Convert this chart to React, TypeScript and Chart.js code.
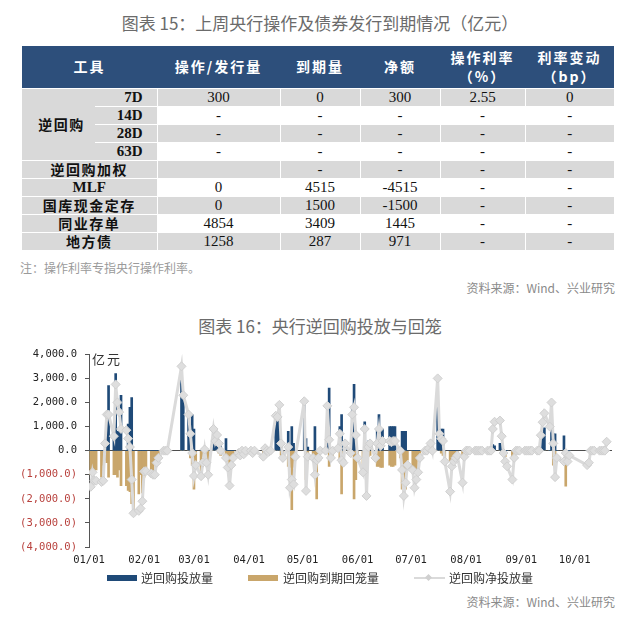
import React, { useEffect, useRef } from "react";
import { Chart, registerables } from "chart.js";

Chart.register(...registerables);

// ---------- Table (图表 15) ----------
const tableLabels = ["7D", "14D", "28D", "63D", "逆回购加权", "MLF", "国库现金定存", "同业存单", "地方债"];
const tableIssue = ["300", "-", "-", "-", "", "0", "0", "4854", "1258"];
const tableMaturity = ["0", "-", "-", "-", "-", "4515", "1500", "3409", "287"];
const tableNet = ["300", "-", "-", "-", "-", "-4515", "-1500", "1445", "971"];
const tableRate = ["2.55", "-", "-", "-", "-", "-", "-", "-", "-"];
const tableChange = ["0", "-", "-", "-", "-", "-", "-", "-", "-"];

// ---------- Chart (图表 16) ----------
const monthTickLabels = ["01/01", "02/01", "03/01", "04/01", "05/01", "06/01", "07/01", "08/01", "09/01", "10/01"];
const monthStartDay = [0, 31, 59, 90, 120, 151, 181, 212, 243, 273];

const dates = [
  "01/02","01/03","01/04","01/05","01/08","01/09","01/10","01/11","01/12","01/15","01/16","01/17","01/18","01/19","01/22","01/23","01/24","01/25","01/26","01/29","01/30","01/31",
  "02/01","02/02","02/05","02/06","02/07","02/08","02/09","02/12","02/13","02/14","02/22","02/23","02/26","02/27","02/28",
  "03/01","03/02","03/05","03/06","03/07","03/08","03/09","03/12","03/13","03/14","03/15","03/16","03/19","03/20","03/21","03/22","03/23","03/26","03/27","03/28","03/29","03/30",
  "04/02","04/03","04/04","04/09","04/10","04/11","04/12","04/13","04/16","04/17","04/18","04/19","04/20","04/23","04/24","04/25","04/26","04/27",
  "05/02","05/03","05/04","05/07","05/08","05/09","05/10","05/11","05/14","05/15","05/16","05/17","05/18","05/21","05/22","05/23","05/24","05/25","05/28","05/29","05/30","05/31",
  "06/01","06/04","06/05","06/06","06/07","06/08","06/11","06/12","06/13","06/14","06/15","06/19","06/20","06/21","06/22","06/25","06/26","06/27","06/28","06/29",
  "07/02","07/03","07/04","07/05","07/06","07/09","07/10","07/11","07/12","07/13","07/16","07/17","07/18","07/19","07/20","07/23","07/24","07/25","07/26","07/27","07/30","07/31",
  "08/01","08/02","08/03","08/06","08/07","08/08","08/09","08/10","08/13","08/14","08/15","08/16","08/17","08/20","08/21","08/22","08/23","08/24","08/27","08/28","08/29","08/30","08/31",
  "09/03","09/04","09/05","09/06","09/07","09/10","09/11","09/12","09/13","09/14","09/17","09/18","09/19","09/20","09/21","09/25","09/26","09/27","09/28",
  "10/08","10/09","10/10","10/11","10/12","10/15","10/16","10/17","10/18","10/19",
];

const injection = [
  0,0,0,0,0,0,0,1200,2700,1000,3200,800,800,2300,0,1100,1800,2200,0,0,0,0,
  0,0,0,0,0,0,0,0,0,0,3000,2300,1600,0,1500,
  900,0,0,0,0,0,0,400,400,300,400,200,500,0,0,0,0,0,0,0,0,0,
  0,0,0,0,100,0,0,0,1400,1450,1400,300,0,800,0,1000,300,0,
  2000,500,150,0,1000,0,0,0,0,1900,2600,0,0,0,1000,1500,0,300,0,1700,2750,300,
  0,0,1200,0,400,400,0,900,1500,900,900,1000,1000,1000,1000,0,800,800,800,0,
  0,0,0,0,0,0,0,100,300,0,2900,900,900,900,0,0,0,0,0,0,0,0,
  0,0,0,0,0,0,0,0,0,0,0,250,200,300,300,0,0,0,0,0,0,0,0,
  0,0,0,0,0,0,0,0,600,950,0,1250,700,700,0,620,0,0,0,
  0,0,0,0,0,0,0,0,0,0,
];

const maturity = [
  -1000,-1100,-800,-800,-1100,-600,-400,-500,-1100,-1000,-1000,-1100,-800,-1450,-1450,-1650,-1700,-2200,-2500,-1800,-1000,-1750,
  -1100,-900,-1000,-900,-450,-450,-300,0,0,0,0,0,0,-300,-600,
  -1600,-500,-1000,-500,0,-500,-1000,0,0,0,-100,-200,-300,-400,-700,-700,-200,0,0,0,0,0,
  0,0,0,-200,0,0,0,0,0,0,0,-200,-300,-650,-700,-2450,-700,-300,
  0,-1200,-300,-200,-1000,-2000,-300,0,0,0,-650,-300,-200,0,-400,-1800,-500,0,-200,-200,-2000,-1200,
  -300,-600,-250,-300,-250,-200,-300,-650,-650,-700,-700,-600,-650,-650,-600,-300,-1600,-2000,-1600,-400,
  -800,-800,-800,-300,-100,0,0,0,0,0,0,0,-100,-200,-450,-450,-650,-300,-200,-100,-300,0,
  0,0,0,0,0,0,0,0,0,0,0,0,0,0,0,0,-250,0,-300,0,0,0,0,
  0,0,0,0,0,0,0,0,0,0,0,0,-600,-200,0,0,-1470,0,0,
  0,0,0,0,0,0,0,0,0,0,
];

const netInjection = [
  -1500,-900,-1250,-1250,-1300,-1250,300,1500,1500,600,2750,2000,1600,900,850,500,150,-1200,-2600,-2500,-2400,-2100,
  -860,-850,-950,-1000,-1000,-500,-300,0,0,0,3500,2300,1500,700,-100,
  -1050,-600,-1060,-500,50,-500,-1000,900,400,650,300,0,-300,-700,-1450,-600,-300,-100,-200,0,-150,0,
  0,-100,0,-250,100,0,-50,0,1450,1400,1900,300,-300,150,-1540,-1200,-1400,-250,
  2050,-1670,-250,-300,-1000,-400,-300,0,0,1860,450,-300,0,100,700,-400,-500,300,-100,1500,1800,650,
  -300,-900,900,-1880,150,300,-300,300,900,200,400,400,350,400,400,0,-800,-1880,-1330,-600,
  -800,-1540,-1200,-900,-300,0,0,100,300,0,3000,700,500,400,-450,-1700,-650,-450,-300,-200,-1330,-250,
  0,0,0,0,0,0,0,0,0,0,0,900,1200,1250,600,-100,-450,-650,-1200,-300,0,0,0,
  0,0,0,0,0,0,0,640,1180,1550,1000,2000,300,-1100,-300,-450,-100,-450,-200,
  -600,-500,0,0,0,0,0,0,0,370,
];

const seriesNames = ["逆回购投放量", "逆回购到期回笼量", "逆回购净投放量"];
const BLUE = "#1f4a78";
const TAN = "#c9a66b";
const GRAY = "#dadada";

function dayOfYear(s: string): number {
  const [m, d] = s.split("/").map(Number);
  return monthStartDay[m - 1] + d - 1;
}

function fmtTick(v: number): string {
  const s = Math.abs(v).toLocaleString("en-US", { minimumFractionDigits: 1, maximumFractionDigits: 1 });
  return v < 0 ? `(${s})` : s;
}

const CJK = '"Noto Sans CJK SC", "Noto Sans", sans-serif';
const SERIF = '"Liberation Serif", "DejaVu Serif", serif';

function RepoChart() {
  const ref = useRef<HTMLCanvasElement | null>(null);
  useEffect(() => {
    if (!ref.current) return;
    const pts = (vals: number[]) => dates.map((d, i) => ({ x: dayOfYear(d), y: vals[i] }));
    const chart = new Chart(ref.current, {
      type: "bar",
      data: {
        datasets: [
          {
            type: "bar",
            label: seriesNames[0],
            data: pts(injection),
            backgroundColor: BLUE,
            barThickness: 2,
            grouped: false,
            order: 2,
          } as any,
          {
            type: "bar",
            label: seriesNames[1],
            data: pts(maturity),
            backgroundColor: TAN,
            barThickness: 2,
            grouped: false,
            order: 3,
          } as any,
          {
            type: "line",
            label: seriesNames[2],
            data: pts(netInjection),
            borderColor: GRAY,
            borderWidth: 3,
            tension: 0,
            pointStyle: "rectRot",
            pointRadius: 4.5,
            pointBackgroundColor: "#dedede",
            pointBorderColor: "#d0d0d0",
            pointBorderWidth: 1,
            order: 1,
          } as any,
        ],
      },
      options: {
        animation: false,
        responsive: false,
        devicePixelRatio: 1,
        layout: { padding: { top: 11, right: 28, left: 0, bottom: 0 } },
        plugins: { legend: { display: false }, tooltip: { enabled: false }, title: { display: false } },
        scales: {
          x: {
            type: "linear",
            min: 0,
            max: 294,
            offset: false,
            grid: { display: false, drawTicks: false, offset: false },
            border: { display: false },
            afterBuildTicks: (scale: any) => {
              scale.ticks = monthTickLabels.map((l) => ({ value: dayOfYear(l) }));
            },
            afterFit: (scale: any) => {
              scale.height = 25;
            },
            ticks: {
              autoSkip: false,
              maxRotation: 0,
              padding: 7,
              color: "#222",
              font: { family: '"DejaVu Sans Mono", monospace', size: 10.5 },
              callback: (v: any) => {
                const l = monthTickLabels.find((m) => dayOfYear(m) === v);
                return l ?? "";
              },
            },
          },
          y: {
            min: -4000,
            max: 4000,
            afterFit: (scale: any) => {
              scale.width = 89;
            },
            grid: {
              drawOnChartArea: true,
              color: (ctx: any) => (ctx.tick && ctx.tick.value === 0 ? "#4d4d4d" : "rgba(0,0,0,0)"),
              tickColor: "#555",
              tickLength: 4,
            },
            border: { display: true, color: "#555", width: 1 },
            ticks: {
              stepSize: 1000,
              padding: 8,
              color: (ctx: any) => (ctx.tick && ctx.tick.value < 0 ? "#b8403c" : "#222"),
              font: { family: '"DejaVu Sans Mono", monospace', size: 10.5 },
              callback: (v: any) => fmtTick(Number(v)),
            },
          },
        },
      } as any,
    });
    return () => chart.destroy();
  }, []);
  return <canvas ref={ref} width={640} height={232} style={{ position: "absolute", left: 0, top: 340, width: 640, height: 232 }} />;
}

function DataTable() {
  const colW = [73, 62, 123, 80, 80, 85, 89];
  const gray = "#d9d9d9";
  const th: React.CSSProperties = {
    color: "#fff",
    fontFamily: CJK,
    fontWeight: 700,
    fontSize: 14,
    letterSpacing: 2,
    textAlign: "center",
    padding: 0,
    lineHeight: "19px",
  };
  const numCell = (i: number): React.CSSProperties => ({
    background: i % 2 === 0 ? gray : "#fff",
    fontFamily: SERIF,
    fontSize: 15,
    color: "#111",
    textAlign: "center",
    padding: 0,
    height: 17,
    lineHeight: "17px",
    borderTop: "1px solid #fff",
    borderLeft: "1px solid #fff",
  });
  const labelCell: React.CSSProperties = {
    background: gray,
    fontFamily: CJK,
    fontSize: 14,
    fontWeight: 600,
    letterSpacing: 1.5,
    color: "#111",
    textAlign: "center",
    padding: 0,
    height: 17,
    lineHeight: "17px",
    borderTop: "1px solid #fff",
  };
  const termCell: React.CSSProperties = {
    ...labelCell,
    fontFamily: SERIF,
    fontWeight: 700,
    fontSize: 15,
    letterSpacing: 0,
    textAlign: "right",
    paddingRight: 14,
  };
  return (
    <table
      style={{
        position: "absolute",
        left: 22,
        top: 46,
        width: 592,
        borderCollapse: "collapse",
        tableLayout: "fixed",
      }}
    >
      <colgroup>
        {colW.map((w, i) => (
          <col key={i} style={{ width: w }} />
        ))}
      </colgroup>
      <thead>
        <tr style={{ height: 42, background: "#2d4f7b" }}>
          <th colSpan={2} style={th}>工具</th>
          <th style={th}>操作/发行量</th>
          <th style={th}>到期量</th>
          <th style={th}>净额</th>
          <th style={th}>操作利率<br />（%）</th>
          <th style={th}>利率变动<br />（bp）</th>
        </tr>
      </thead>
      <tbody>
        {tableLabels.map((lab, i) => {
          const cells = [tableIssue[i], tableMaturity[i], tableNet[i], tableRate[i], tableChange[i]];
          return (
            <tr key={i}>
              {i === 0 && (
                <td rowSpan={4} style={{ ...labelCell, verticalAlign: "middle", paddingLeft: 6 }}>逆回购</td>
              )}
              {i < 4 ? (
                <td style={termCell}>{lab}</td>
              ) : (
                <td colSpan={2} style={i === 5 ? { ...labelCell, fontFamily: SERIF, fontWeight: 700, fontSize: 15, letterSpacing: 0 } : labelCell}>
                  {lab}
                </td>
              )}
              {cells.map((c, j) => (
                <td key={j} style={numCell(i)}>{c}</td>
              ))}
            </tr>
          );
        })}
      </tbody>
    </table>
  );
}

export default function App() {
  const abs = (o: React.CSSProperties): React.CSSProperties => ({ position: "absolute", whiteSpace: "nowrap", ...o });
  return (
    <div style={{ position: "absolute", left: 0, top: 0, width: 640, height: 631, background: "#fff", overflow: "hidden" }}>
      <div style={abs({ left: 0, top: 11, width: 640, textAlign: "center", fontFamily: CJK, fontSize: 17, lineHeight: "24px", color: "#6b6b6b" })}>
        图表 15：上周央行操作及债券发行到期情况（亿元）
      </div>
      <DataTable />
      <div style={abs({ left: 20, top: 260, fontFamily: CJK, fontSize: 12, lineHeight: "16px", color: "#9a9a9a" })}>
        注：操作利率专指央行操作利率。
      </div>
      <div style={abs({ right: 25, top: 280, fontFamily: CJK, fontSize: 12, lineHeight: "16px", color: "#8a8a8a" })}>
        资料来源：Wind、兴业研究
      </div>
      <div style={abs({ left: 0, top: 314, width: 640, textAlign: "center", fontFamily: CJK, fontSize: 17, lineHeight: "24px", color: "#6b6b6b" })}>
        图表 16：央行逆回购投放与回笼
      </div>
      <RepoChart />
      <div style={abs({ left: 92, top: 351, fontFamily: CJK, fontSize: 13, lineHeight: "16px", letterSpacing: 2, color: "#333" })}>亿元</div>
      {/* legend */}
      <div style={abs({ left: 107, top: 575, width: 30, height: 6, background: BLUE })} />
      <div style={abs({ left: 141, top: 570, fontFamily: CJK, fontSize: 12, lineHeight: "16px", color: "#333" })}>{seriesNames[0]}</div>
      <div style={abs({ left: 248, top: 575, width: 30, height: 6, background: TAN })} />
      <div style={abs({ left: 283, top: 570, fontFamily: CJK, fontSize: 12, lineHeight: "16px", color: "#333" })}>{seriesNames[1]}</div>
      <div style={abs({ left: 414, top: 577, width: 31, height: 2, background: GRAY })} />
      <div style={abs({ left: 426, top: 575, width: 5, height: 5, background: "#d0d0d0", transform: "rotate(45deg)" })} />
      <div style={abs({ left: 449, top: 570, fontFamily: CJK, fontSize: 12, lineHeight: "16px", color: "#333" })}>{seriesNames[2]}</div>
      <div style={abs({ right: 25, top: 594, fontFamily: CJK, fontSize: 12, lineHeight: "16px", color: "#8a8a8a" })}>
        资料来源：Wind、兴业研究
      </div>
    </div>
  );
}
